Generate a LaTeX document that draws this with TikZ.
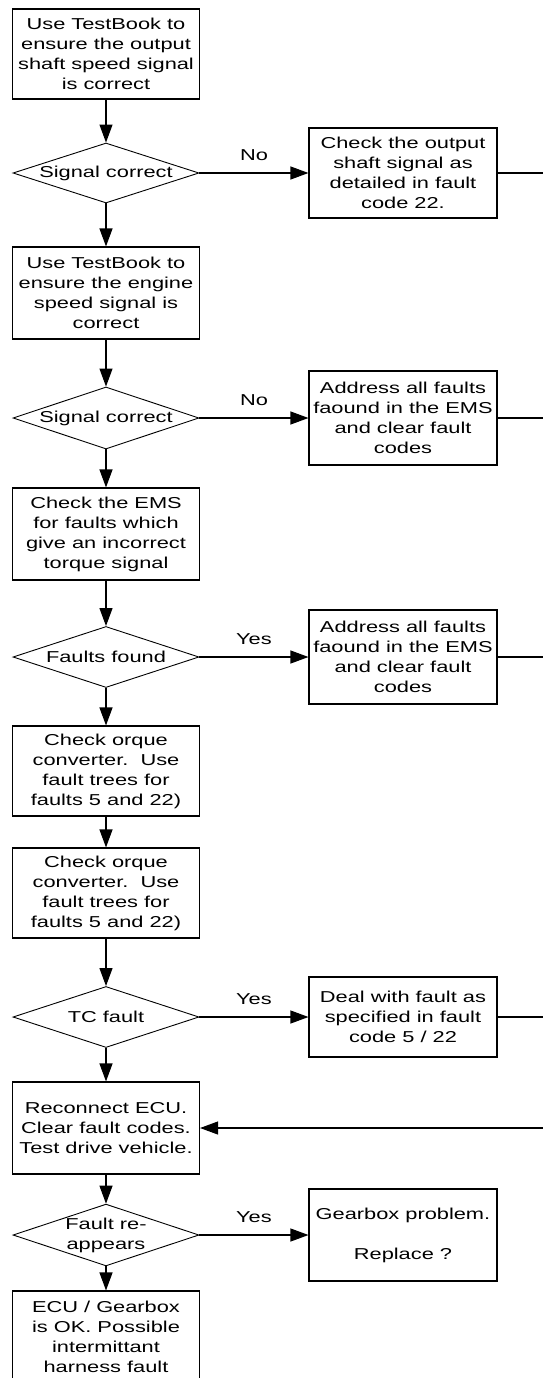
\documentclass[tikz,border=0pt]{standalone}
\usepackage{fontspec}
\setmainfont{Liberation Sans}[FakeStretch=1.38]
\usetikzlibrary{arrows.meta, shapes.geometric}

\begin{document}
\begin{tikzpicture}[x=1pt, y=-1pt, >={Triangle[length=18pt,width=13pt]},
                    auto, line width=1.1pt,
                    font=\fontsize{15.8}{20}\selectfont]
\tikzstyle{action}=[shape=rectangle, draw=black, line width=1.1pt,
                    inner sep=0pt, minimum width=187pt, minimum height=92pt,
                    align=center]
\tikzstyle{query}=[shape=diamond, draw=black, line width=0.9pt, aspect=3,
                    inner sep=0pt, minimum width=186pt, minimum height=61pt,
                    align=center]
\tikzstyle{answer}=[above=12pt, inner sep=0pt]
  \useasboundingbox (0,0) rectangle (543,1378);
  % main column
  \node[action] (TB1) at (106,54) [minimum height=90pt]
        {Use TestBook to\\ensure the output\\shaft speed signal\\is correct};
  \node[query] (Q1) at (106,173) [minimum height=60pt] {Signal correct};
  \node[action] (TB2) at (106,293)
        {Use TestBook to\\ensure the engine\\speed signal is\\correct};
  \node[query] (Q2) at (106,418) [minimum height=62pt] {Signal correct};
  \node[action] (EMS) at (106,534)
        {Check the EMS\\for faults which\\give an incorrect\\torque signal};
  \node[query] (Q3) at (106,657) {Faults found};
  \node[action] (TC1) at (106,771) [minimum height=90pt]
        {Check orque\\converter.\ \ Use\\fault trees for\\faults 5 and 22)};
  \node[action] (TC2) at (106,893) [minimum height=90pt]
        {Check orque\\converter.\ \ Use\\fault trees for\\faults 5 and 22)};
  \node[query] (Q4) at (106,1017) {TC fault};
  \node[action] (ECU) at (106,1128)
        {Reconnect ECU.\\Clear fault codes.\\Test drive vehicle.};
  \node[query] (Q5) at (106,1235) [minimum height=60pt] {Fault re-\\appears};
  \node[action] (OK) at (106,1337)
        {ECU / Gearbox\\is OK. Possible\\intermittant\\harness fault};
  % side boxes
  \node[action] (OS) at (403,173) [minimum width=188pt, minimum height=90pt]
        {Check the output\\shaft signal as\\detailed in fault\\code 22.};
  \node[action] (Fix1) at (403,418) [minimum width=188pt, minimum height=94pt]
        {Address all faults\\faound in the EMS\\and clear fault\\codes};
  \node[action] (Fix2) at (403,657) [minimum width=188pt, minimum height=94pt]
        {Address all faults\\faound in the EMS\\and clear fault\\codes};
  \node[action] (Deal) at (403,1017) [minimum width=188pt, minimum height=80pt]
        {Deal with fault as\\specified in fault\\code 5 / 22};
  \node[action] (Gear) at (403,1235) [minimum width=188pt]
        {Gearbox problem.\\[20pt]Replace ?};
  % free ends at the right margin
  \coordinate (out1) at (543,173);
  \coordinate (out2) at (543,418);
  \coordinate (out3) at (543,657);
  \coordinate (out4) at (543,1017);
  \coordinate (back) at (543,1128);

  \path[->] (TB1) edge (Q1);
  \path[->] (Q1) edge (TB2);
  \path[->] (TB2) edge (Q2);
  \path[->] (Q2) edge (EMS);
  \path[->] (EMS) edge (Q3);
  \path[->] (Q3) edge (TC1);
  \path[->] (TC1) edge (TC2);
  \path[->] (TC2) edge (Q4);
  \path[->] (Q4) edge (ECU);
  \path[->] (ECU) edge (Q5);
  \path[->] (Q5) edge (OK);

  \path[->] (Q1) edge node[answer] {No} (OS);
  \path[->] (Q2) edge node[answer] {No} (Fix1);
  \path[->] (Q3) edge node[answer] {Yes} (Fix2);
  \path[->] (Q4) edge node[answer] {Yes} (Deal);
  \path[->] (Q5) edge node[answer] {Yes} (Gear);

  \draw (OS) -- (out1);
  \draw (Fix1) -- (out2);
  \draw (Fix2) -- (out3);
  \draw (Deal) -- (out4);
  \draw[->] (back) -- (ECU);
\end{tikzpicture}
\end{document}
